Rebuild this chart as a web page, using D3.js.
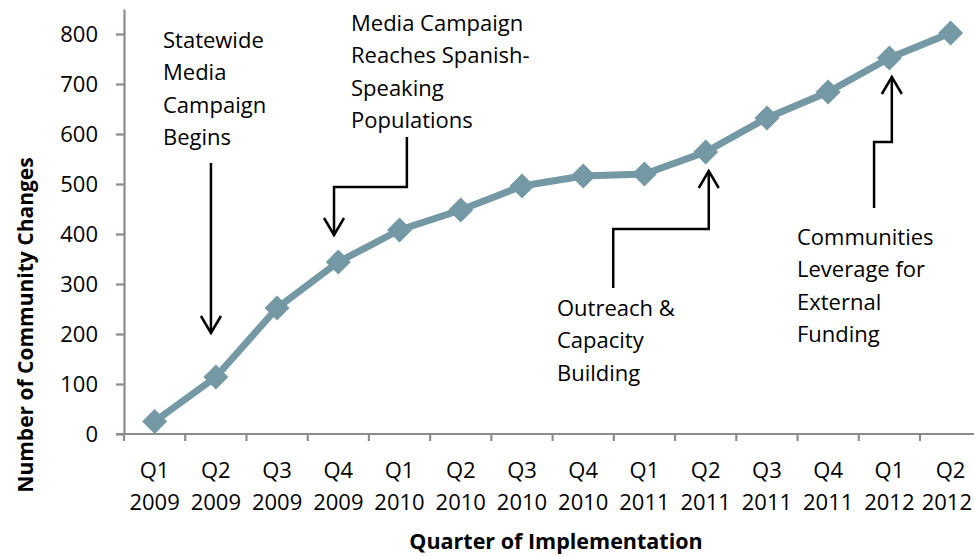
<!DOCTYPE html>
<html>
<head>
<meta charset="utf-8">
<script src="https://cdn.jsdelivr.net/npm/d3@7"></script>
<style>
  html, body { margin: 0; padding: 0; background: #fff; }
  svg { display: block; font-family: "Open Sans", "Noto Sans", sans-serif; }
</style>
</head>
<body>
<svg id="chart" width="974" height="556"></svg>
<script>
// Cumulative community changes per quarter
const quarters = ["Q1","Q2","Q3","Q4","Q1","Q2","Q3","Q4","Q1","Q2","Q3","Q4","Q1","Q2"];
const years = ["2009","2009","2009","2009","2010","2010","2010","2010","2011","2011","2011","2011","2012","2012"];
const changes = [25, 114, 252, 344, 408, 448, 496, 516, 520, 564, 632, 684, 752, 802];
const yTicks = [0, 100, 200, 300, 400, 500, 600, 700, 800];

const W = 974;
const svg = d3.select("#chart");
const left = 124, bandW = 61.23, bottom = 434;
const keys = quarters.map((q, i) => i);

const x = d3.scaleBand().domain(keys).range([left, left + bandW * keys.length]).padding(0);
// continuous companion of the band scale (index -> band centre) for annotation leaders
const xc = d3.scaleLinear().domain([-0.5, keys.length - 0.5]).range(x.range());
const y = d3.scaleLinear().domain([0, 850]).range([bottom, 9]);

const axisColor = "#8c8c8c";
const lineColor = "#7599a4";

// Y axis
const yAxis = svg.append("g").attr("transform", `translate(${left},0)`)
  .call(d3.axisLeft(y).tickValues(yTicks).tickSize(8).tickPadding(18).tickSizeOuter(0));
yAxis.select(".domain").attr("stroke", axisColor).attr("stroke-width", 2.2);
yAxis.selectAll(".tick line").attr("stroke", axisColor).attr("stroke-width", 2.2);
yAxis.selectAll(".tick text").attr("font-size", 22).attr("fill", "#000")
  .attr("font-family", "Open Sans, sans-serif");

// X axis line, boundary ticks and two-line category labels
const xg = svg.append("g");
xg.append("line").attr("x1", left - 8).attr("x2", W).attr("y1", bottom).attr("y2", bottom)
  .attr("stroke", axisColor).attr("stroke-width", 2.2);
xg.selectAll("line.tk").data(keys).join("line").attr("class", "tk")
  .attr("x1", d => x(d)).attr("x2", d => x(d))
  .attr("y1", bottom).attr("y2", bottom + 7)
  .attr("stroke", axisColor).attr("stroke-width", 2.2);
const lbl = xg.selectAll("text.cat").data(keys).join("text").attr("class", "cat")
  .attr("text-anchor", "middle").attr("font-size", 22).attr("fill", "#000");
lbl.append("tspan").attr("x", d => x(d) + x.bandwidth() / 2).attr("y", 478).text(d => quarters[d]);
lbl.append("tspan").attr("x", d => x(d) + x.bandwidth() / 2).attr("y", 510).text(d => years[d]);
// keep the last labels inside the drawing area
lbl.selectAll("tspan").each(function () {
  const b = this.getBBox ? this.parentNode.getBBox() : null;
  const w = this.getComputedTextLength();
  const cxv = +this.getAttribute("x");
  if (cxv + w / 2 > W - 2) this.setAttribute("x", W - 2 - w / 2);
});

// Axis titles
svg.append("text").attr("x", 556).attr("y", 549).attr("text-anchor", "middle")
  .attr("font-size", 21.5).attr("font-weight", "bold").attr("fill", "#000")
  .text("Quarter of Implementation");
svg.append("text").attr("transform", "translate(33,325) rotate(-90)").attr("text-anchor", "middle")
  .attr("font-size", 21).attr("font-weight", "bold").attr("fill", "#000")
  .text("Number of Community Changes");

// Series line and diamond markers
const cx = i => x(i) + x.bandwidth() / 2;
svg.append("path").datum(keys)
  .attr("d", d3.line().x(i => cx(i)).y(i => y(changes[i])))
  .attr("fill", "none").attr("stroke", lineColor).attr("stroke-width", 7).attr("stroke-linejoin", "round");
svg.selectAll("path.mk").data(keys).join("path").attr("class", "mk")
  .attr("d", i => {
    const px = cx(i), py = y(changes[i]), r = 12.5;
    return `M${px},${py - r}L${px + r},${py}L${px},${py + r}L${px - r},${py}Z`;
  })
  .attr("fill", lineColor);

// Event annotations: leader polylines given as [category index, value] pairs
const annotations = [
  { lines: ["Statewide", "Media", "Campaign", "Begins"], tx: 163, ty: 48,
    path: [[0.92, 542], [0.92, 202]] },
  { lines: ["Media Campaign", "Reaches Spanish-", "Speaking", "Populations"], tx: 351, ty: 31,
    path: [[4.12, 594], [4.12, 494], [2.93, 494], [2.93, 398]] },
  { lines: ["Outreach &", "Capacity", "Building"], tx: 557, ty: 316,
    path: [[7.49, 292], [7.49, 410], [9.05, 410], [9.05, 526]] },
  { lines: ["Communities", "Leverage for", "External", "Funding"], tx: 797, ty: 245,
    path: [[11.75, 452], [11.75, 584], [12.04, 584], [12.04, 714]] }
];

const ag = svg.append("g");
annotations.forEach(a => {
  const t = ag.append("text").attr("font-size", 22).attr("fill", "#000");
  a.lines.forEach((s, k) => t.append("tspan").attr("x", a.tx).attr("y", a.ty + k * 32.3).text(s));
  const pts = a.path.map(([i, v]) => [xc(i), y(v)]);
  ag.append("path").attr("d", d3.line()(pts))
    .attr("fill", "none").attr("stroke", "#000").attr("stroke-width", 2.5);
  // open arrowhead at the last point
  const [tx, ty] = pts[pts.length - 1];
  const [px, py] = pts[pts.length - 2];
  const dir = Math.sign(ty - py);
  ag.append("path")
    .attr("d", `M${tx - 10},${ty - dir * 17}L${tx},${ty}L${tx + 10},${ty - dir * 17}`)
    .attr("fill", "none").attr("stroke", "#000").attr("stroke-width", 2.5);
});
</script>
</body>
</html>
